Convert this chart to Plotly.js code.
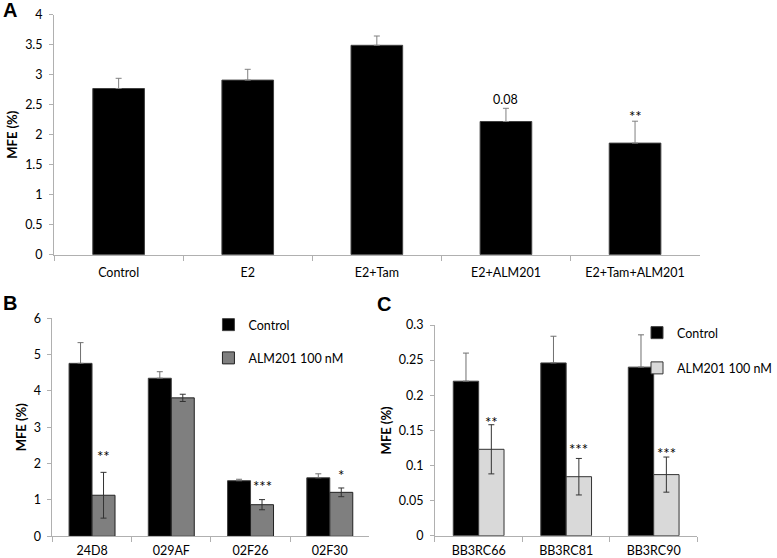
<!DOCTYPE html>
<html><head><meta charset="utf-8">
<script src="https://cdn.plot.ly/plotly-3.0.1.min.js"></script>
<style>html,body{margin:0;padding:0;background:#fff}#chart{width:777px;height:558px}</style>
</head><body><div id="chart"></div>
<script>
// ---- Panel A data ----
const groupsA = ['Control', 'E2', 'E2+Tam', 'E2+ALM201', 'E2+Tam+ALM201'];
const mfeA = [2.77, 2.91, 3.49, 2.22, 1.86];
const errA = [0.17, 0.18, 0.155, 0.22, 0.365];
const sigA = ['', '', '', '0.08', '**'];
const sigYA = [null, null, null, 2.595, 2.31];

// ---- Panel B data ----
const linesB = ['24D8', '029AF', '02F26', '02F30'];
const controlB = [4.76, 4.35, 1.53, 1.61];
const controlErrB = [0.57, 0.18, 0.04, 0.11];
const almB = [1.13, 3.81, 0.87, 1.21];
const almErrB = [0.63, 0.10, 0.14, 0.12];
const sigB = ['**', '', '***', '*'];
const sigYB = [2.22, null, 1.38, 1.69];

// ---- Panel C data ----
const linesC = ['BB3RC66', 'BB3RC81', 'BB3RC90'];
const controlC = [0.220, 0.246, 0.240];
const controlErrC = [0.040, 0.038, 0.046];
const almC = [0.123, 0.084, 0.087];
const almErrC = [0.035, 0.026, 0.025];
const sigC = ['**', '***', '***'];
const sigYC = [0.162, 0.123, 0.118];

const seriesNames = ['Control', 'ALM201 100 nM'];
const yTitle = 'MFE (%)';
const panelLabels = ['A', 'B', 'C'];

// ---- styles ----
const FONT = 'Lato, "Open Sans", sans-serif';
const AXC = '#b0b0b0';
const W = 777, H = 558;
const barW = 0.29;
const zeros = a => a.map(() => 0);

const traces = [
  {type: 'bar', x: groupsA, y: mfeA, xaxis: 'x', yaxis: 'y', width: 0.4,
   marker: {color: '#000', line: {color: '#404040', width: 1}}, showlegend: false,
   error_y: {type: 'data', symmetric: false, array: errA, arrayminus: zeros(errA), color: '#808080', thickness: 1, width: 3}},
  {type: 'bar', x: linesB, y: controlB, xaxis: 'x2', yaxis: 'y2', width: barW, offset: -barW,
   name: seriesNames[0], legend: 'legend', legendgroup: 'bc',
   marker: {color: '#000', line: {color: '#404040', width: 1}},
   error_y: {type: 'data', symmetric: false, array: controlErrB, arrayminus: zeros(controlErrB), color: '#707070', thickness: 1, width: 3}},
  {type: 'bar', x: linesB, y: almB, xaxis: 'x2', yaxis: 'y2', width: barW, offset: 0,
   name: seriesNames[1], legend: 'legend', legendgroup: 'ba',
   marker: {color: '#7f7f7f', line: {color: '#222', width: 1}},
   error_y: {type: 'data', array: almErrB, color: '#333', thickness: 1, width: 3}},
  {type: 'bar', x: linesC, y: controlC, xaxis: 'x3', yaxis: 'y3', width: barW, offset: -barW,
   name: seriesNames[0], legend: 'legend2', legendgroup: 'cc',
   marker: {color: '#000', line: {color: '#404040', width: 1}},
   error_y: {type: 'data', symmetric: false, array: controlErrC, arrayminus: zeros(controlErrC), color: '#707070', thickness: 1, width: 3}},
  {type: 'bar', x: linesC, y: almC, xaxis: 'x3', yaxis: 'y3', width: barW, offset: 0,
   name: seriesNames[1], legend: 'legend2', legendgroup: 'ca',
   marker: {color: '#d9d9d9', line: {color: '#333', width: 1}},
   error_y: {type: 'data', array: almErrC, color: '#333', thickness: 1, width: 3}}
];

function xAxis(dom, anchor, standoff) {
  return {domain: dom, anchor: anchor, type: 'category', showline: true, linecolor: AXC, linewidth: 1,
    ticks: 'outside', tickson: 'boundaries', ticklen: 5, tickcolor: AXC, showgrid: false, zeroline: false,
    tickfont: {family: FONT, size: 12.5, color: '#000'}, ticklabelstandoff: standoff, fixedrange: true};
}
function yAxis(dom, anchor, range, dtick) {
  return {domain: dom, anchor: anchor, range: range, dtick: dtick, showline: true, linecolor: AXC, linewidth: 1,
    ticks: 'outside', ticklen: 4, tickcolor: AXC, showgrid: false, zeroline: false,
    tickfont: {family: FONT, size: 12.5, color: '#000'}, ticklabelstandoff: 4, fixedrange: true,
    title: {text: yTitle, font: {family: FONT, size: 13, color: '#000', weight: 700}, standoff: 4}};
}

const annotations = [];
function addSig(labels, ys, xref, yref, dx) {
  labels.forEach((t, i) => {
    if (!t) return;
    const isStar = t.indexOf('*') >= 0;
    annotations.push({xref: xref, yref: yref, x: i + dx, y: ys[i], text: t, showarrow: false,
      xanchor: 'center', yanchor: 'middle', font: {family: FONT, size: isStar ? 15 : 12.5, color: '#000'}});
  });
}
addSig(sigA, sigYA, 'x', 'y', 0);
addSig(sigB, sigYB, 'x2', 'y2', barW / 2);
addSig(sigC, sigYC, 'x3', 'y3', barW / 2);

const labelPos = [[1, 10], [1, 303], [381, 304]];
panelLabels.forEach((t, i) => {
  annotations.push({xref: 'paper', yref: 'paper', x: labelPos[i][0] / W, y: 1 - labelPos[i][1] / H,
    xanchor: 'left', yanchor: 'middle', text: t, showarrow: false,
    font: {family: 'Liberation Sans, Arial, sans-serif', size: 20, color: '#000', weight: 700}});
});

const layout = {
  width: W, height: H, margin: {l: 0, r: 0, t: 0, b: 0},
  paper_bgcolor: '#fff', plot_bgcolor: 'rgba(0,0,0,0)',
  barmode: 'overlay', showlegend: true,
  font: {family: FONT, size: 12, color: '#111'},
  xaxis: xAxis([55 / W, 711.5 / W], 'y', 6),
  yaxis: yAxis([1 - 254.7 / H, 1 - 14.7 / H], 'x', [0, 4], 0.5),
  xaxis2: xAxis([53.3 / W, 375.7 / W], 'y2', 3),
  yaxis2: yAxis([1 - 536.3 / H, 1 - 318.3 / H], 'x2', [0, 6], 1),
  xaxis3: xAxis([442.3 / W, 709.3 / W], 'y3', 3),
  yaxis3: yAxis([1 - 535.7 / H, 1 - 325 / H], 'x3', [0, 0.3], 0.05),
  legend: {x: 212 / W, y: 1 - 310 / H, xanchor: 'left', yanchor: 'top', traceorder: 'grouped', tracegroupgap: 14,
    bgcolor: 'rgba(0,0,0,0)', font: {family: FONT, size: 12.5, color: '#000'}},
  legend2: {x: 648 / W, y: 1 - 318 / H, xanchor: 'left', yanchor: 'top', traceorder: 'grouped', tracegroupgap: 16,
    bgcolor: 'rgba(0,0,0,0)', font: {family: FONT, size: 12.5, color: '#000'}},
  annotations: annotations
};

Plotly.newPlot('chart', traces, layout, {displayModeBar: false, staticPlot: true});
</script>
</body></html>
